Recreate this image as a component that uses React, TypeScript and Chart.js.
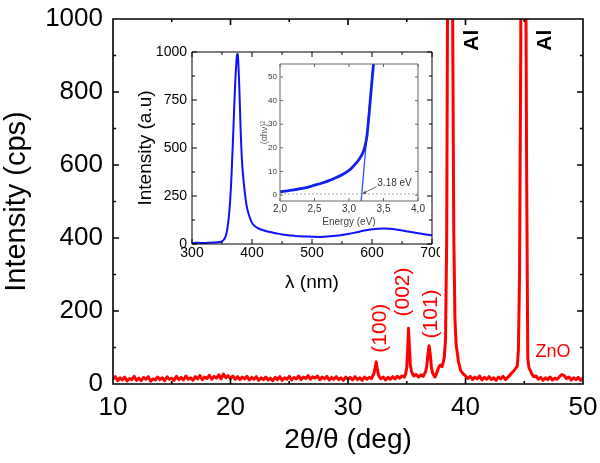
import React, { useEffect, useRef } from 'react';
import { Chart, registerables } from 'chart.js';

Chart.register(...registerables);

const FONT = '"Liberation Sans", Arial, Helvetica, sans-serif';

// ---------- Main XRD pattern: [2θ (deg), intensity (cps)] ----------
const xrdPoints: [number, number][] = [
  [10.0,14],[10.2,20],[10.4,9],[10.6,17],[10.8,11],[11.0,19],[11.2,8],[11.4,15],[11.6,12],[11.8,21],
  [12.0,10],[12.2,16],[12.4,9],[12.6,18],[12.8,13],[13.0,20],[13.2,8],[13.4,14],[13.6,11],[13.8,19],
  [14.0,12],[14.2,17],[14.4,9],[14.6,20],[14.8,13],[15.0,16],[15.2,10],[15.4,21],[15.6,12],[15.8,18],
  [16.0,11],[16.2,22],[16.4,13],[16.6,17],[16.8,10],[17.0,20],[17.2,14],[17.4,23],[17.6,12],[17.8,19],
  [18.0,15],[18.2,24],[18.4,13],[18.6,21],[18.8,16],[19.0,25],[19.2,14],[19.4,27],[19.6,17],[19.8,23],
  [20.0,15],[20.2,22],[20.4,13],[20.6,20],[20.8,12],[21.0,19],[21.2,14],[21.4,21],[21.6,11],[21.8,18],
  [22.0,13],[22.2,20],[22.4,10],[22.6,17],[22.8,12],[23.0,19],[23.2,11],[23.4,16],[23.6,9],[23.8,18],
  [24.0,12],[24.2,20],[24.4,10],[24.6,17],[24.8,13],[25.0,21],[25.2,11],[25.4,18],[25.6,14],[25.8,22],
  [26.0,12],[26.2,19],[26.4,15],[26.6,23],[26.8,13],[27.0,20],[27.2,16],[27.4,22],[27.6,12],[27.8,19],
  [28.0,14],[28.2,21],[28.4,11],[28.6,18],[28.8,13],[29.0,20],[29.2,12],[29.4,17],[29.6,10],[29.8,19],
  [30.0,13],[30.2,18],[30.4,11],[30.6,20],[30.8,12],[31.0,17],[31.2,10],[31.4,19],[31.6,13],[31.8,18],
  [32.0,15],[32.1,22],[32.2,28],[32.3,42],[32.4,61],[32.5,40],[32.6,24],[32.7,18],[32.8,14],[33.0,19],
  [33.2,11],[33.4,18],[33.6,13],[33.8,20],[34.0,14],[34.2,21],[34.4,16],[34.6,22],[34.8,19],[34.9,27],
  [35.0,45],[35.1,110],[35.15,153],[35.2,118],[35.3,55],[35.4,34],[35.5,28],[35.6,22],[35.8,26],[36.0,19],
  [36.2,25],[36.4,21],[36.5,28],[36.6,33],[36.7,48],[36.8,80],[36.9,105],[37.0,82],[37.1,45],[37.2,30],
  [37.3,24],[37.4,19],[37.5,26],[37.6,35],[37.7,44],[37.8,50],[37.9,52],[38.0,48],[38.1,58],[38.2,75],
  [38.3,120],[38.4,400],[38.5,1300],[38.6,2600],[38.7,2800],[38.8,2200],[38.9,1050],[39.0,420],[39.1,180],[39.2,110],
  [39.3,85],[39.4,62],[39.5,48],[39.6,36],[39.8,28],[40.0,22],[40.2,15],[40.4,21],[40.6,12],[40.8,19],
  [41.0,14],[41.2,22],[41.4,11],[41.6,18],[41.8,13],[42.0,20],[42.2,12],[42.4,17],[42.6,10],[42.8,19],
  [43.0,14],[43.2,21],[43.4,12],[43.6,18],[43.8,25],[44.0,32],[44.2,40],[44.4,48],[44.5,90],[44.6,300],
  [44.7,900],[44.8,2000],[44.9,2700],[45.0,2500],[45.1,1400],[45.2,600],[45.3,70],[45.4,45],[45.5,38],[45.6,30],
  [45.8,20],[46.0,22],[46.2,13],[46.4,18],[46.6,10],[46.8,17],[47.0,12],[47.2,19],[47.4,11],[47.6,16],
  [47.8,13],[48.0,20],[48.2,26],[48.4,23],[48.6,15],[48.8,19],[49.0,11],[49.2,17],[49.4,12],[49.6,18],
  [49.8,10],[50.0,16],
];
const xrdXTicks = [10, 20, 30, 40, 50];
const xrdXMinor = [15, 25, 35, 45];
const xrdYTicks = [0, 200, 400, 600, 800, 1000];
const xrdYMinor = [100, 300, 500, 700, 900];
const peakNames = ['(100)', '(002)', '(101)'];

// ---------- PL inset ----------
const plWavelength = [300,310,320,330,340,345,350,353,356,359,362,365,368,370,372,374,375,376,377,379,381,383,385,388,391,395,400,405,410,420,430,440,450,460,470,480,490,500,510,520,530,540,550,560,570,580,590,600,610,620,630,640,650,660,670,680,690,700];
const plIntensity  = [5,6,5,7,8,10,14,22,40,80,160,300,520,680,840,950,985,990,960,800,600,450,360,270,200,150,110,92,82,70,62,56,50,46,43,40,39,38,37,38,40,43,47,52,58,65,72,77,80,81,80,76,70,65,60,55,50,46];
const plXTicks = [300, 400, 500, 600, 700];
const plXMinor = [350, 450, 550, 650];
const plYTicks = [0, 250, 500, 750, 1000];
const plYMinor = [125, 375, 625, 875];

// ---------- Tauc plot (nested inset) ----------
const taucEnergy = [2.0,2.1,2.2,2.3,2.4,2.5,2.6,2.7,2.8,2.9,3.0,3.05,3.1,3.15,3.2,3.23,3.26,3.29,3.32,3.35,3.365];
const taucValue  = [1.4,1.8,2.2,2.7,3.3,4.2,5.0,6.0,7.2,8.6,10.5,11.8,13.4,15.3,17.8,20.5,25,34,44,54,58];
const fitEnergy = [3.176, 3.35];
const fitValue = [-2.5, 55.5];
const refEnergy = [2.0, 4.0];
const refValue = [0.5, 0.5];
const tXTicks = [2.0, 2.5, 3.0, 3.5, 4.0];
const tYTicks = [0, 10, 20, 30, 40, 50];
const gapLabel = '3.18 eV';

type FrameSpec = {
  xMajor: number[]; xMinor: number[]; yMajor: number[]; yMinor: number[];
  major: number; minor: number; color: string; width: number; fill?: string;
};

function framePlugin(id: string, spec: FrameSpec) {
  return {
    id,
    beforeDatasetsDraw(chart: any) {
      if (!spec.fill) return;
      const { ctx, chartArea: a } = chart;
      ctx.save();
      ctx.fillStyle = spec.fill;
      ctx.fillRect(a.left, a.top, a.right - a.left, a.bottom - a.top);
      ctx.restore();
    },
    afterDatasetsDraw(chart: any) {
      const { ctx, chartArea: a, scales } = chart;
      const x = scales.x, y = scales.y;
      ctx.save();
      ctx.strokeStyle = spec.color;
      ctx.lineWidth = spec.width;
      ctx.beginPath();
      ctx.rect(a.left, a.top, a.right - a.left, a.bottom - a.top);
      const vt = (v: number, len: number) => {
        const p = x.getPixelForValue(v);
        ctx.moveTo(p, a.bottom); ctx.lineTo(p, a.bottom - len);
        ctx.moveTo(p, a.top); ctx.lineTo(p, a.top + len);
      };
      const ht = (v: number, len: number) => {
        const p = y.getPixelForValue(v);
        ctx.moveTo(a.left, p); ctx.lineTo(a.left + len, p);
        ctx.moveTo(a.right, p); ctx.lineTo(a.right - len, p);
      };
      spec.xMajor.forEach(v => vt(v, spec.major));
      spec.xMinor.forEach(v => vt(v, spec.minor));
      spec.yMajor.forEach(v => ht(v, spec.major));
      spec.yMinor.forEach(v => ht(v, spec.minor));
      ctx.stroke();
      ctx.restore();
    },
  };
}

function drawText(ctx: CanvasRenderingContext2D, text: string, px: number, py: number, font: string, color: string, rotate: boolean, align: CanvasTextAlign = 'center') {
  ctx.save();
  ctx.translate(px, py);
  if (rotate) ctx.rotate(-Math.PI / 2);
  ctx.font = font;
  ctx.fillStyle = color;
  ctx.textAlign = align;
  ctx.textBaseline = 'middle';
  ctx.fillText(text, 0, 0);
  ctx.restore();
}

// annotation anchors (data coordinates)
const mainAnnot = {
  peaks: [[32.75, 153], [34.68, 252], [37.06, 192]],
  zno: [47.45, 88],
  al: [[40.55, 942], [46.77, 942]],
};

const mainLabels = {
  id: 'mainLabels',
  afterDatasetsDraw(chart: any) {
    const { ctx, scales: { x, y } } = chart;
    peakNames.forEach((t, i) => {
      const [a, b] = mainAnnot.peaks[i];
      drawText(ctx, t, x.getPixelForValue(a), y.getPixelForValue(b), `21px ${FONT}`, '#ff0000', true);
    });
    drawText(ctx, 'ZnO', x.getPixelForValue(mainAnnot.zno[0]), y.getPixelForValue(mainAnnot.zno[1]), `18px ${FONT}`, '#ff0000', false);
    mainAnnot.al.forEach(([a, b]) => {
      drawText(ctx, 'Al', x.getPixelForValue(a), y.getPixelForValue(b), `bold 21px ${FONT}`, '#000', true);
    });
  },
};

const tAnnot = { text: [3.41, 5], arrowFrom: [3.40, 3.6], arrowTo: [3.195, 0.6] };
const tLabels = {
  id: 'tLabels',
  afterDatasetsDraw(chart: any) {
    const { ctx, scales: { x, y } } = chart;
    drawText(ctx, gapLabel, x.getPixelForValue(tAnnot.text[0]), y.getPixelForValue(tAnnot.text[1]), `10px ${FONT}`, '#333', false, 'left');
    const x1 = x.getPixelForValue(tAnnot.arrowFrom[0]), y1 = y.getPixelForValue(tAnnot.arrowFrom[1]);
    const x2 = x.getPixelForValue(tAnnot.arrowTo[0]), y2 = y.getPixelForValue(tAnnot.arrowTo[1]);
    ctx.save();
    ctx.strokeStyle = '#444';
    ctx.fillStyle = '#444';
    ctx.lineWidth = 0.8;
    ctx.beginPath(); ctx.moveTo(x1, y1); ctx.lineTo(x2, y2); ctx.stroke();
    const ang = Math.atan2(y2 - y1, x2 - x1);
    ctx.beginPath();
    ctx.moveTo(x2, y2);
    ctx.lineTo(x2 - 4 * Math.cos(ang - 0.4), y2 - 4 * Math.sin(ang - 0.4));
    ctx.lineTo(x2 - 4 * Math.cos(ang + 0.4), y2 - 4 * Math.sin(ang + 0.4));
    ctx.closePath(); ctx.fill();
    ctx.restore();
  },
};

const ticksFrom = (arr: number[]) => (s: any) => { s.ticks = arr.map(v => ({ value: v })); };
const plain = (v: any) => String(v);

function mainConfig(): any {
  return {
    type: 'line',
    data: {
      datasets: [{
        data: xrdPoints.map(([a, b]) => ({ x: a, y: b })),
        borderColor: '#ff0000', borderWidth: 3, pointRadius: 0, tension: 0,
        borderJoinStyle: 'round', borderCapStyle: 'round',
      }],
    },
    options: {
      animation: false, responsive: false,
      plugins: { legend: { display: false }, tooltip: { enabled: false } },
      layout: { padding: { top: 19, right: 17, left: 0, bottom: 0 } },
      scales: {
        x: {
          type: 'linear', min: 10, max: 50,
          afterBuildTicks: ticksFrom(xrdXTicks),
          ticks: { font: { size: 26, family: FONT }, color: '#000', padding: 8, autoSkip: false, maxRotation: 0, callback: plain },
          grid: { display: false, drawTicks: false }, border: { display: false },
          title: { display: true, text: '2θ/θ (deg)', font: { size: 28, family: FONT }, color: '#000', padding: { top: 0, bottom: 6 } },
          afterFit: (s: any) => { s.height = 79; s.paddingLeft = 0; s.paddingRight = 0; },
        },
        y: {
          type: 'linear', min: 0, max: 1000,
          afterBuildTicks: ticksFrom(xrdYTicks),
          ticks: { font: { size: 26, family: FONT }, color: '#000', padding: 10, autoSkip: false, callback: plain },
          grid: { display: false, drawTicks: false }, border: { display: false },
          title: { display: true, text: 'Intensity (cps)', font: { size: 29, family: FONT }, color: '#000', padding: { top: 0, bottom: 0 } },
          afterFit: (s: any) => { s.width = 113; s.paddingTop = 0; s.paddingBottom = 0; },
        },
      },
    },
    plugins: [framePlugin('mainFrame', { xMajor: xrdXTicks, xMinor: xrdXMinor, yMajor: xrdYTicks, yMinor: xrdYMinor, major: 6, minor: 3, color: '#000', width: 1.6 }), mainLabels],
  };
}

function plConfig(): any {
  return {
    type: 'line',
    data: {
      datasets: [{
        data: plWavelength.map((w, i) => ({ x: w, y: plIntensity[i] })),
        borderColor: '#1010ff', borderWidth: 2, pointRadius: 0, tension: 0.3,
      }],
    },
    options: {
      animation: false, responsive: false,
      plugins: { legend: { display: false }, tooltip: { enabled: false } },
      layout: { padding: { top: 12, right: 8, left: 0, bottom: 0 } },
      scales: {
        x: {
          type: 'linear', min: 300, max: 700,
          afterBuildTicks: ticksFrom(plXTicks),
          ticks: { font: { size: 14, family: FONT }, color: '#000', padding: 1, autoSkip: false, maxRotation: 0, callback: plain },
          grid: { display: false, drawTicks: false }, border: { display: false },
          title: { display: true, text: 'λ (nm)', font: { size: 19, family: FONT }, color: '#000', padding: { top: 0, bottom: 6 } },
          afterFit: (s: any) => { s.height = 56; s.paddingLeft = 0; s.paddingRight = 0; },
        },
        y: {
          type: 'linear', min: 0, max: 1000,
          afterBuildTicks: ticksFrom(plYTicks),
          ticks: { font: { size: 14, family: FONT }, color: '#000', padding: 5, autoSkip: false, callback: plain },
          grid: { display: false, drawTicks: false }, border: { display: false },
          title: { display: true, text: 'Intensity (a.u)', font: { size: 19, family: FONT }, color: '#000', padding: { top: 4, bottom: 0 } },
          afterFit: (s: any) => { s.width = 62; s.paddingTop = 0; s.paddingBottom = 0; },
        },
      },
    },
    plugins: [framePlugin('plFrame', { xMajor: plXTicks, xMinor: plXMinor, yMajor: plYTicks, yMinor: plYMinor, major: 5, minor: 3, color: '#000', width: 1 })],
  };
}

function tConfig(): any {
  return {
    type: 'line',
    data: {
      datasets: [
        { data: refEnergy.map((e, i) => ({ x: e, y: refValue[i] })), borderColor: '#aaaaaa', borderWidth: 1, borderDash: [2, 2], pointRadius: 0 },
        { data: taucEnergy.map((e, i) => ({ x: e, y: taucValue[i] })), borderColor: '#1020ee', borderWidth: 2.8, pointRadius: 0, tension: 0.2 },
        { data: fitEnergy.map((e, i) => ({ x: e, y: fitValue[i] })), borderColor: '#3050ff', borderWidth: 1.3, pointRadius: 0 },
      ],
    },
    options: {
      animation: false, responsive: false,
      plugins: { legend: { display: false }, tooltip: { enabled: false } },
      layout: { padding: { top: 8, right: 7, left: 0, bottom: 0 } },
      scales: {
        x: {
          type: 'linear', min: 2.0, max: 4.0,
          afterBuildTicks: ticksFrom(tXTicks),
          ticks: { font: { size: 10, family: FONT }, color: '#333', padding: 2, autoSkip: false, maxRotation: 0,
            callback: (v: any) => Number(v).toFixed(1).replace('.', ',') },
          grid: { display: false, drawTicks: false }, border: { display: false },
          title: { display: true, text: 'Energy (eV)', font: { size: 10, family: FONT }, color: '#444', padding: { top: 0, bottom: 5 } },
          afterFit: (s: any) => { s.height = 32; s.paddingLeft = 0; s.paddingRight = 0; },
        },
        y: {
          type: 'linear', min: -2.5, max: 55.5,
          afterBuildTicks: ticksFrom(tYTicks),
          ticks: { font: { size: 8, family: FONT }, color: '#333', padding: 3, autoSkip: false, callback: plain },
          grid: { display: false, drawTicks: false }, border: { display: false },
          title: { display: true, text: '(αhν)²', font: { size: 9, family: FONT }, color: '#666', padding: { top: 4, bottom: 0 } },
          afterFit: (s: any) => { s.width = 25; s.paddingTop = 0; s.paddingBottom = 0; },
        },
      },
    },
    plugins: [framePlugin('tFrame', { xMajor: tXTicks, xMinor: [], yMajor: tYTicks, yMinor: [], major: 3, minor: 2, color: '#666', width: 1, fill: '#ffffff' }), tLabels],
  };
}

export default function App() {
  const mainRef = useRef<HTMLCanvasElement>(null);
  const plRef = useRef<HTMLCanvasElement>(null);
  const tRef = useRef<HTMLCanvasElement>(null);
  useEffect(() => {
    Chart.defaults.font.family = FONT;
    Chart.defaults.color = '#000';
    const charts = [
      new Chart(mainRef.current as HTMLCanvasElement, mainConfig()),
      new Chart(plRef.current as HTMLCanvasElement, plConfig()),
      new Chart(tRef.current as HTMLCanvasElement, tConfig()),
    ];
    return () => charts.forEach(c => c.destroy());
  }, []);
  return (
    <div style={{ position: 'absolute', left: 0, top: 0, width: 600, height: 463, background: '#fff', overflow: 'hidden' }}>
      <canvas ref={mainRef} width={600} height={463} style={{ position: 'absolute', left: 0, top: 0, width: 600, height: 463 }} />
      <canvas ref={plRef} width={310} height={260} style={{ position: 'absolute', left: 130, top: 40, width: 310, height: 260 }} />
      <canvas ref={tRef} width={170} height={177} style={{ position: 'absolute', left: 255, top: 56, width: 170, height: 177 }} />
    </div>
  );
}
